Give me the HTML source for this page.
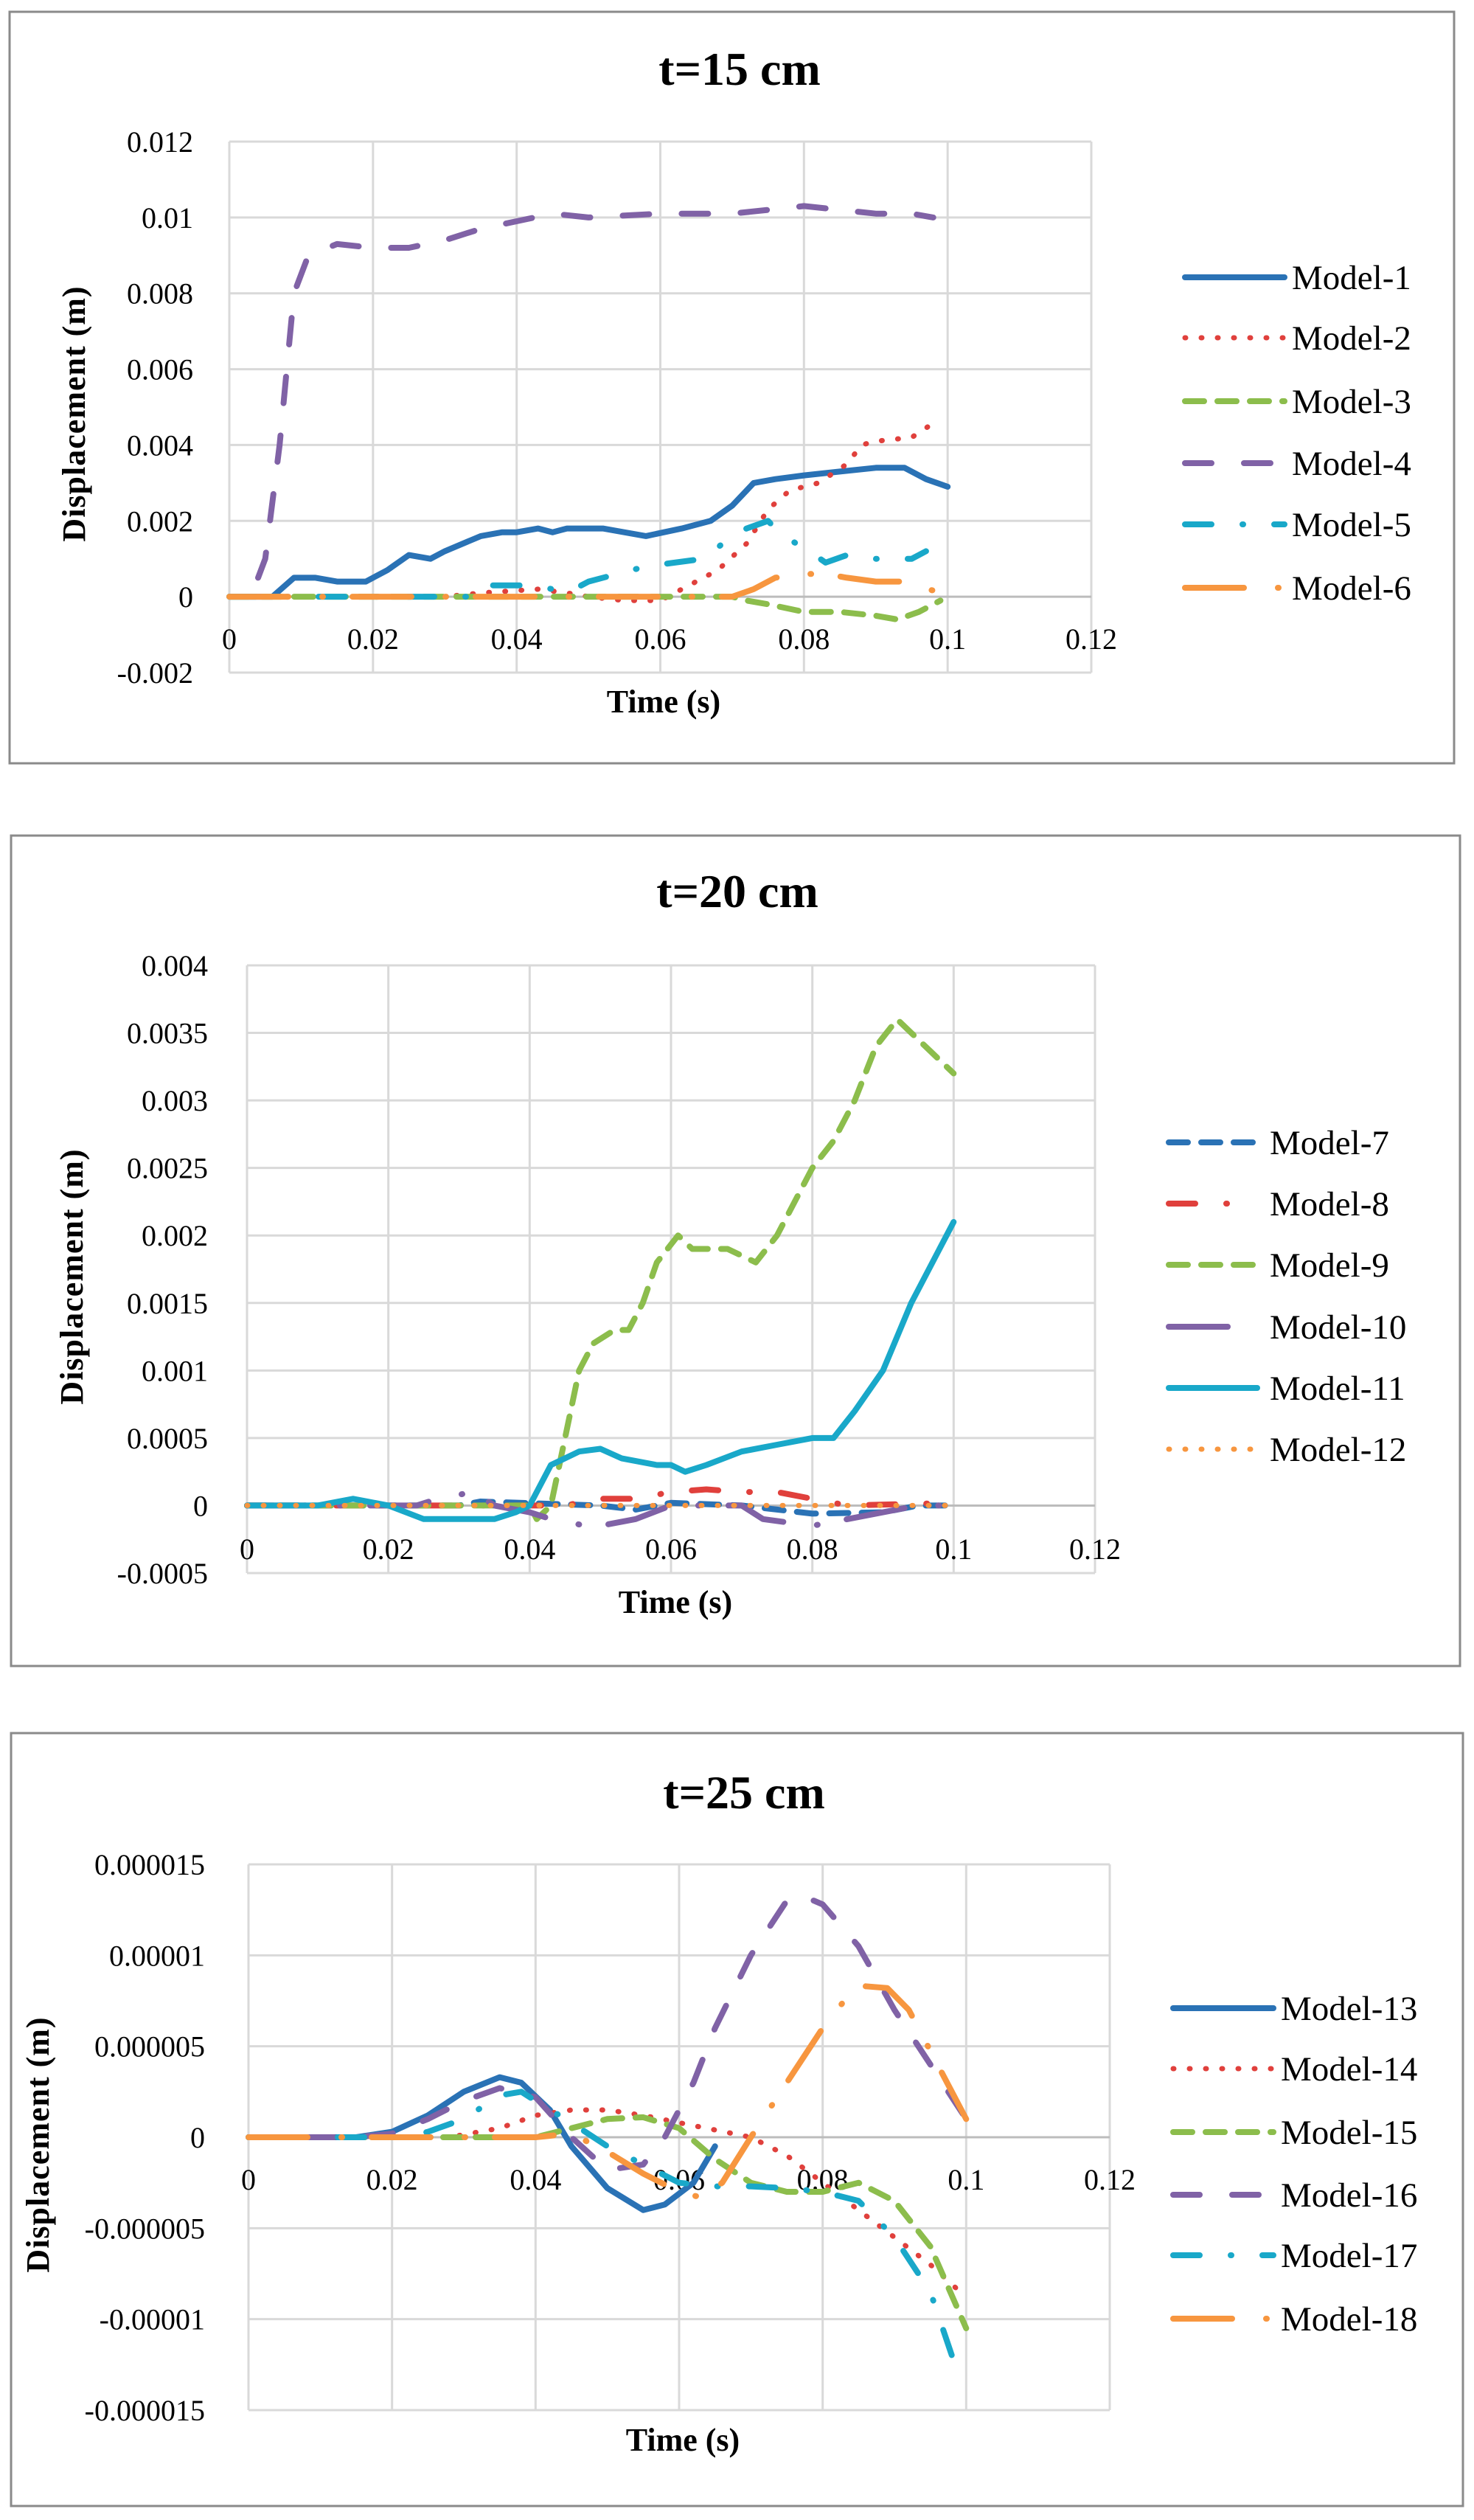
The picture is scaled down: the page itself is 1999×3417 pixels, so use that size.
<!DOCTYPE html>
<html><head><meta charset="utf-8">
<style>
html,body{margin:0;padding:0;background:#fff;}
svg{display:block;}
text{font-family:"Liberation Serif",serif;fill:#000;}
</style></head>
<body>
<svg id="s" width="1999" height="3417" viewBox="0 0 1999 3417" xmlns="http://www.w3.org/2000/svg"></svg>
<script>
const S=document.getElementById('s');
let out='';
const C={blue:'#2a72b5',red:'#e0403c',green:'#8cbd4c',purple:'#8062a6',cyan:'#19a8c9',orange:'#f7963f'};
const D={solid:'',dot:'1 21',dash:'26 18',ldash:'36 44',dd:'36 42 1 42',ldd:'80 46 1 40'};
function chart(o){
  const X=v=>o.x0+(o.x1-o.x0)*v/0.12;
  const Y=v=>o.yT+(o.yB-o.yT)*(o.ymax-v)/(o.ymax-o.ymin);
  out+=`<rect x="${o.fx0}" y="${o.fy0}" width="${o.fx1-o.fx0}" height="${o.fy1-o.fy0}" fill="#fff" stroke="#8a8a8a" stroke-width="3"/>`;
  for(let i=0;i<=6;i++){const x=X(i*0.02);out+=`<line x1="${x}" y1="${o.yT}" x2="${x}" y2="${o.yB}" stroke="#d9d9d9" stroke-width="3"/>`;}
  o.yt.forEach(t=>{const y=Y(t.v);out+=`<line x1="${o.x0}" y1="${y}" x2="${o.x1}" y2="${y}" stroke="${t.v===0?'#bcbcbc':'#d9d9d9'}" stroke-width="3"/>`;
    out+=`<text x="${o.tr}" y="${y+14}" text-anchor="end" font-size="40">${t.l}</text>`;});
  ['0','0.02','0.04','0.06','0.08','0.1','0.12'].forEach((l,i)=>{out+=`<text x="${X(i*0.02)}" y="${o.xly}" text-anchor="middle" font-size="40">${l}</text>`;});
  out+=`<text x="${o.tx}" y="${o.ty}" text-anchor="middle" font-size="64" font-weight="bold">${o.title}</text>`;
  out+=`<text x="${o.ax}" y="${o.ay}" text-anchor="middle" font-size="44" font-weight="bold">Time (s)</text>`;
  out+=`<text transform="translate(${o.yx},${o.yy}) rotate(-90)" text-anchor="middle" font-size="44" font-weight="bold" letter-spacing="1">Displacement (m)</text>`;
  o.series.forEach((s,i)=>{
    const pts=s.p.map(p=>X(p[0]).toFixed(1)+','+Y(p[1]*o.sc).toFixed(1)).join(' ');
    const w=s.d==='dot'?7:8;
    out+=`<polyline points="${pts}" fill="none" stroke="${C[s.c]}" stroke-width="${w}" stroke-linecap="round" stroke-linejoin="round" ${D[s.d]?`stroke-dasharray="${D[s.d]}"`:''}/>`;
    const ly=o.ly[i];
    out+=`<line x1="${o.lx0}" y1="${ly}" x2="${o.lx1}" y2="${ly}" stroke="${C[s.c]}" stroke-width="${w}" stroke-linecap="round" ${D[s.d]?`stroke-dasharray="${D[s.d]}"`:''}/>`;
    out+=`<text x="${o.ltx}" y="${ly+16}" font-size="47">${s.n}</text>`;
  });
}
chart({fx0:13,fy0:16,fx1:1972,fy1:1035,x0:311,x1:1480,yT:192,yB:912,ymax:0.012,ymin:-0.002,sc:1,
 yt:[0.012,0.01,0.008,0.006,0.004,0.002,0,-0.002].map(v=>({v,l:String(v)})),tr:262,xly:880,
 title:'t=15 cm',tx:1003,ty:115,ax:900,ay:966,yx:115,yy:561,
 lx0:1607,lx1:1742,ltx:1752,ly:[376,458,544,628,711,797],
 series:[
 {n:'Model-1',c:'blue',d:'solid',p:[[0,0],[0.006,0],[0.009,0.0005],[0.012,0.0005],[0.015,0.0004],[0.019,0.0004],[0.022,0.0007],[0.025,0.0011],[0.028,0.001],[0.03,0.0012],[0.035,0.0016],[0.038,0.0017],[0.04,0.0017],[0.043,0.0018],[0.045,0.0017],[0.047,0.0018],[0.052,0.0018],[0.058,0.0016],[0.063,0.0018],[0.067,0.002],[0.07,0.0024],[0.073,0.003],[0.076,0.0031],[0.08,0.0032],[0.085,0.0033],[0.09,0.0034],[0.094,0.0034],[0.097,0.0031],[0.1,0.0029]]},
 {n:'Model-2',c:'red',d:'dot',p:[[0,0],[0.03,0],[0.035,0.0001],[0.043,0.0002],[0.047,0.0001],[0.05,0],[0.055,-0.0001],[0.06,-0.0001],[0.064,0.0003],[0.068,0.0007],[0.072,0.0014],[0.075,0.0023],[0.078,0.0028],[0.082,0.003],[0.086,0.0035],[0.088,0.004],[0.09,0.0041],[0.095,0.0042],[0.099,0.0047]]},
 {n:'Model-3',c:'green',d:'dash',p:[[0,0],[0.07,0],[0.072,-0.0001],[0.075,-0.0002],[0.08,-0.0004],[0.085,-0.0004],[0.09,-0.0005],[0.093,-0.0006],[0.096,-0.0004],[0.099,-0.0001]]},
 {n:'Model-4',c:'purple',d:'ldash',p:[[0.004,0.0005],[0.005,0.001],[0.007,0.004],[0.008,0.006],[0.009,0.008],[0.011,0.009],[0.015,0.0093],[0.02,0.0092],[0.025,0.0092],[0.03,0.0094],[0.035,0.0097],[0.04,0.0099],[0.045,0.0101],[0.05,0.01],[0.06,0.0101],[0.07,0.0101],[0.075,0.0102],[0.08,0.0103],[0.085,0.0102],[0.09,0.0101],[0.095,0.0101],[0.098,0.01]]},
 {n:'Model-5',c:'cyan',d:'dd',p:[[0,0],[0.034,0],[0.036,0.0003],[0.039,0.0003],[0.042,0.0003],[0.045,0.0002],[0.048,0.0002],[0.05,0.0004],[0.054,0.0006],[0.058,0.0008],[0.062,0.0009],[0.066,0.001],[0.07,0.0016],[0.072,0.0018],[0.075,0.002],[0.077,0.0016],[0.08,0.0013],[0.083,0.0009],[0.086,0.0011],[0.09,0.001],[0.095,0.001],[0.097,0.0012]]},
 {n:'Model-6',c:'orange',d:'ldd',p:[[0,0],[0.07,0],[0.073,0.0002],[0.076,0.0005],[0.08,0.0006],[0.083,0.0006],[0.086,0.0005],[0.09,0.0004],[0.094,0.0004],[0.097,0.0002],[0.1,0.0001]]}
 ]});
chart({fx0:15,fy0:1133,fx1:1980,fy1:2259,x0:335,x1:1485,yT:1309,yB:2133,ymax:0.004,ymin:-0.0005,sc:1,
 yt:[[0.004,'0.004'],[0.0035,'0.0035'],[0.003,'0.003'],[0.0025,'0.0025'],[0.002,'0.002'],[0.0015,'0.0015'],[0.001,'0.001'],[0.0005,'0.0005'],[0,'0'],[-0.0005,'-0.0005']].map(a=>({v:a[0],l:a[1]})),tr:282,xly:2114,
 title:'t=20 cm',tx:1000,ty:1230,ax:916,ay:2187,yx:112,yy:1731,
 lx0:1585,lx1:1705,ltx:1722,ly:[1549,1632,1715,1799,1882,1965],
 series:[
 {n:'Model-7',c:'blue',d:'dash',p:[[0,0],[0.03,0],[0.033,0.00003],[0.05,0],[0.055,-0.00003],[0.06,0.00002],[0.07,0],[0.075,-0.00003],[0.08,-0.00006],[0.09,-0.00005],[0.095,0],[0.1,0]]},
 {n:'Model-8',c:'red',d:'dd',p:[[0,0],[0.045,0],[0.05,0.00005],[0.055,0.00005],[0.06,0.0001],[0.065,0.00012],[0.07,0.0001],[0.075,0.0001],[0.08,0.00005],[0.085,0],[0.1,0.00002]]},
 {n:'Model-9',c:'green',d:'dash',p:[[0,0],[0.04,0],[0.041,-0.0001],[0.043,0],[0.045,0.0005],[0.047,0.001],[0.049,0.0012],[0.052,0.0013],[0.054,0.0013],[0.056,0.0015],[0.058,0.0018],[0.061,0.002],[0.063,0.0019],[0.068,0.0019],[0.072,0.0018],[0.075,0.002],[0.08,0.0025],[0.083,0.0027],[0.086,0.003],[0.089,0.0034],[0.092,0.0036],[0.096,0.0034],[0.1,0.0032]]},
 {n:'Model-10',c:'purple',d:'ldd',p:[[0,0],[0.024,0],[0.027,0.00005],[0.032,0.0001],[0.035,0],[0.04,-0.00005],[0.043,-0.0001],[0.048,-0.00015],[0.05,-0.00015],[0.055,-0.0001],[0.06,0],[0.065,0],[0.07,0],[0.073,-0.0001],[0.08,-0.00015],[0.085,-0.0001],[0.09,-0.00005],[0.095,0],[0.1,0]]},
 {n:'Model-11',c:'cyan',d:'solid',p:[[0,0],[0.01,0],[0.015,0.00005],[0.02,0],[0.025,-0.0001],[0.03,-0.0001],[0.035,-0.0001],[0.038,-0.00005],[0.04,0],[0.043,0.0003],[0.047,0.0004],[0.05,0.00042],[0.053,0.00035],[0.058,0.0003],[0.06,0.0003],[0.062,0.00025],[0.065,0.0003],[0.07,0.0004],[0.075,0.00045],[0.08,0.0005],[0.083,0.0005],[0.086,0.0007],[0.09,0.001],[0.094,0.0015],[0.1,0.0021]]},
 {n:'Model-12',c:'orange',d:'dot',p:[[0,0],[0.1,0]]}
 ]});
chart({fx0:15,fy0:2350,fx1:1984,fy1:3398,x0:337,x1:1505,yT:2528,yB:3268,ymax:15,ymin:-15,sc:1e6,
 yt:[[15,'0.000015'],[10,'0.00001'],[5,'0.000005'],[0,'0'],[-5,'-0.000005'],[-10,'-0.00001'],[-15,'-0.000015']].map(a=>({v:a[0],l:a[1]})),tr:278,xly:2969,
 title:'t=25 cm',tx:1009,ty:2452,ax:926,ay:3323,yx:66,yy:2908,
 lx0:1591,lx1:1727,ltx:1737,ly:[2723,2805,2891,2976,3058,3144],
 series:[
 {n:'Model-13',c:'blue',d:'solid',p:[[0,0],[0.015,0],[0.02,0.3e-6],[0.025,1.2e-6],[0.03,2.5e-6],[0.035,3.3e-6],[0.038,3.0e-6],[0.042,1.5e-6],[0.045,-0.5e-6],[0.05,-2.8e-6],[0.055,-4.0e-6],[0.058,-3.7e-6],[0.062,-2.5e-6],[0.065,-0.5e-6]]},
 {n:'Model-14',c:'red',d:'dot',p:[[0,0],[0.028,0],[0.035,0.5e-6],[0.04,1.2e-6],[0.045,1.5e-6],[0.05,1.5e-6],[0.055,1.2e-6],[0.06,0.8e-6],[0.065,0.4e-6],[0.07,0],[0.075,-1e-6],[0.08,-2.5e-6],[0.085,-4e-6],[0.09,-5.5e-6],[0.095,-7e-6],[0.1,-8.8e-6]]},
 {n:'Model-15',c:'green',d:'dash',p:[[0,0],[0.04,0],[0.045,0.5e-6],[0.05,1.0e-6],[0.055,1.1e-6],[0.06,0.5e-6],[0.065,-1.2e-6],[0.07,-2.5e-6],[0.075,-3.0e-6],[0.08,-3.0e-6],[0.085,-2.5e-6],[0.09,-3.5e-6],[0.095,-6e-6],[0.1,-10.5e-6]]},
 {n:'Model-16',c:'purple',d:'ldash',p:[[0,0],[0.015,0],[0.02,0.2e-6],[0.025,1.0e-6],[0.03,2.0e-6],[0.035,2.7e-6],[0.04,2.2e-6],[0.045,0],[0.05,-1.8e-6],[0.055,-1.5e-6],[0.058,0],[0.062,3e-6],[0.065,6e-6],[0.07,10e-6],[0.075,13e-6],[0.077,13.3e-6],[0.08,12.8e-6],[0.085,10.5e-6],[0.09,7e-6],[0.095,4e-6],[0.1,1e-6]]},
 {n:'Model-17',c:'cyan',d:'dd',p:[[0,0],[0.022,0],[0.025,0.3e-6],[0.03,1.0e-6],[0.035,2.3e-6],[0.038,2.5e-6],[0.04,2.0e-6],[0.045,0.8e-6],[0.05,-0.5e-6],[0.055,-1.5e-6],[0.06,-2.5e-6],[0.065,-2.7e-6],[0.07,-2.7e-6],[0.075,-2.8e-6],[0.08,-3.0e-6],[0.085,-3.5e-6],[0.09,-5.5e-6],[0.095,-8.5e-6],[0.098,-12e-6],[0.1,-13e-6]]},
 {n:'Model-18',c:'orange',d:'ldd',p:[[0,0],[0.04,0],[0.045,0.2e-6],[0.05,-0.8e-6],[0.055,-2e-6],[0.06,-3.0e-6],[0.063,-3.3e-6],[0.066,-2.5e-6],[0.07,0],[0.075,3e-6],[0.08,6e-6],[0.083,7.5e-6],[0.086,8.3e-6],[0.089,8.2e-6],[0.092,7e-6],[0.096,4e-6],[0.1,1e-6]]}
 ]});
S.innerHTML=out;
</script>
</body></html>
